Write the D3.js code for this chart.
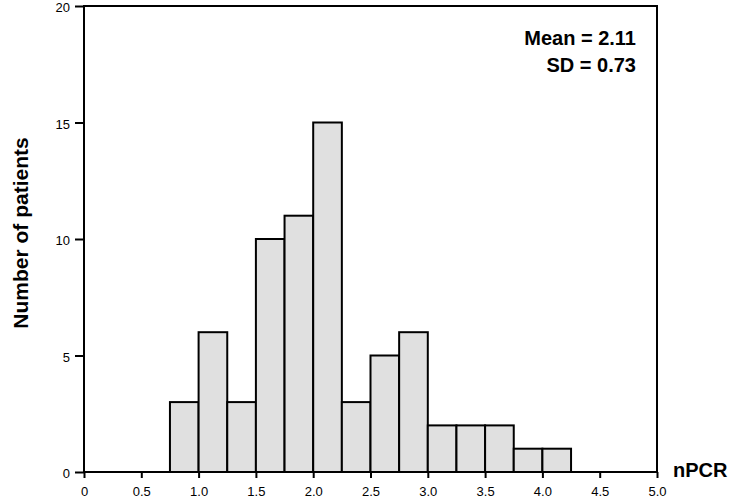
<!DOCTYPE html>
<html>
<head>
<meta charset="utf-8">
<script src="https://cdn.jsdelivr.net/npm/d3@7"></script>
<style>
  body { margin: 0; background: #fff; }
  svg { display: block; font-family: "Liberation Sans", Arial, sans-serif; }
  .axis line { stroke: #000; stroke-width: 2px; }
</style>
</head>
<body>
<div id="chart"></div>
<script>
"use strict";

// Histogram of nPCR, bins of width 0.25
var binStarts = [0.75, 1.0, 1.25, 1.5, 1.75, 2.0, 2.25, 2.5, 2.75, 3.0, 3.25, 3.5, 3.75, 4.0];
var binWidth = 0.25;
var counts = [3, 6, 3, 10, 11, 15, 3, 5, 6, 2, 2, 2, 1, 1];
var xTickValues = [0, 0.5, 1.0, 1.5, 2.0, 2.5, 3.0, 3.5, 4.0, 4.5, 5.0];
var xTickLabels = ["0", "0.5", "1.0", "1.5", "2.0", "2.5", "3.0", "3.5", "4.0", "4.5", "5.0"];
var yTickValues = [0, 5, 10, 15, 20];
var statLines = ["Mean = 2.11", "SD = 0.73"];

var margin = {top: 6, right: 76, bottom: 27, left: 84},
    width = 733 - margin.left - margin.right,
    height = 499 - margin.top - margin.bottom;

var xScale = d3.scaleLinear().domain([0, 5]).range([0, width]);
var yScale = d3.scaleLinear().domain([0, 20]).range([height, 0]);

var svg = d3.select("#chart").append("svg")
    .attr("width", 733)
    .attr("height", 499);

var g = svg.append("g")
    .attr("transform", "translate(" + margin.left + "," + margin.top + ")");

// bars
g.selectAll(".bar")
    .data(counts)
    .enter()
    .append("rect")
    .attr("class", "bar")
    .attr("x", function(d, i) { return xScale(binStarts[i]); })
    .attr("y", function(d) { return yScale(d); })
    .attr("width", function(d, i) { return xScale(binStarts[i] + binWidth) - xScale(binStarts[i]); })
    .attr("height", function(d) { return height - yScale(d); })
    .style("fill", "#e0e0e0")
    .style("stroke", "#000")
    .style("stroke-width", 2);

// axes
var xAxis = d3.axisBottom(xScale)
    .tickValues(xTickValues)
    .tickSize(6)
    .tickPadding(9)
    .tickFormat(function(d, i) { return xTickLabels[i]; });
var yAxis = d3.axisLeft(yScale)
    .tickValues(yTickValues)
    .tickSize(9)
    .tickPadding(5);

g.append("g")
    .attr("class", "x axis")
    .attr("transform", "translate(0," + height + ")")
    .call(xAxis)
    .attr("font-size", 13)
    .attr("font-family", null)
    .call(function(a) { a.select(".domain").remove(); });

g.append("g")
    .attr("class", "y axis")
    .call(yAxis)
    .attr("font-size", 13)
    .attr("font-family", null)
    .call(function(a) {
        a.select(".domain").remove();
        a.selectAll("text").attr("dy", "0.45em");
    });

// frame around plot
g.append("rect")
    .attr("width", width)
    .attr("height", height)
    .style("fill", "none")
    .style("stroke", "#000")
    .style("stroke-width", 2);

// titles
g.append("text")
    .attr("x", width + 16)
    .attr("y", height + 5)
    .style("font-size", "20px")
    .style("font-weight", "bold")
    .text("nPCR");

g.append("text")
    .attr("transform", "rotate(-90)")
    .attr("x", -(height / 2) + 6)
    .attr("y", -56)
    .style("text-anchor", "middle")
    .style("font-size", "21px")
    .style("font-weight", "bold")
    .text("Number of patients");

// summary stats
g.selectAll(".stat")
    .data(statLines)
    .enter()
    .append("text")
    .attr("class", "stat")
    .attr("x", width - 21)
    .attr("y", function(d, i) { return 39 + i * 27; })
    .style("text-anchor", "end")
    .style("font-size", "20px")
    .style("font-weight", "bold")
    .text(function(d) { return d; });
</script>
</body>
</html>
